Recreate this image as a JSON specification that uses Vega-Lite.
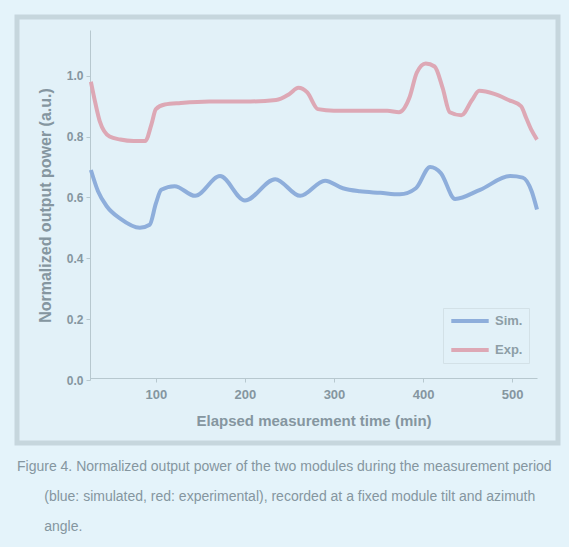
{
  "$schema": "https://vega.github.io/schema/vega-lite/v6.json",
  "width": 541,
  "height": 426,
  "autosize": {"type": "none"},
  "padding": {"left": 17, "top": 17, "right": 11, "bottom": 104},
  "background": "#e4f3fa",
  "title": {
    "text": [
      "Figure 4. Normalized output power of the two modules during the measurement period",
      "\u200b\u00a0\u00a0\u00a0\u00a0\u00a0\u00a0\u00a0(blue: simulated, red: experimental), recorded at a fixed module tilt and azimuth",
      "\u200b\u00a0\u00a0\u00a0\u00a0\u00a0\u00a0\u00a0angle."
    ],
    "orient": "bottom",
    "anchor": "start",
    "frame": "group",
    "offset": 17,
    "fontSize": 14,
    "fontWeight": "normal",
    "lineHeight": 30,
    "color": "#8596a0",
    "font": "Liberation Sans"
  },
  "data": {
    "values": [
      {"series": "Exp.", "t": 27, "v": 0.98},
      {"series": "Exp.", "t": 32, "v": 0.91},
      {"series": "Exp.", "t": 37, "v": 0.85},
      {"series": "Exp.", "t": 48, "v": 0.80},
      {"series": "Exp.", "t": 60, "v": 0.79},
      {"series": "Exp.", "t": 75, "v": 0.785},
      {"series": "Exp.", "t": 88, "v": 0.785},
      {"series": "Exp.", "t": 95, "v": 0.84},
      {"series": "Exp.", "t": 100, "v": 0.89},
      {"series": "Exp.", "t": 110, "v": 0.905},
      {"series": "Exp.", "t": 128, "v": 0.91},
      {"series": "Exp.", "t": 160, "v": 0.915},
      {"series": "Exp.", "t": 200, "v": 0.915},
      {"series": "Exp.", "t": 235, "v": 0.92},
      {"series": "Exp.", "t": 250, "v": 0.94},
      {"series": "Exp.", "t": 260, "v": 0.96},
      {"series": "Exp.", "t": 270, "v": 0.945},
      {"series": "Exp.", "t": 282, "v": 0.89},
      {"series": "Exp.", "t": 300, "v": 0.885},
      {"series": "Exp.", "t": 330, "v": 0.885},
      {"series": "Exp.", "t": 360, "v": 0.885},
      {"series": "Exp.", "t": 373, "v": 0.88},
      {"series": "Exp.", "t": 385, "v": 0.93},
      {"series": "Exp.", "t": 393, "v": 1.01},
      {"series": "Exp.", "t": 403, "v": 1.04},
      {"series": "Exp.", "t": 413, "v": 1.03},
      {"series": "Exp.", "t": 422, "v": 0.96},
      {"series": "Exp.", "t": 430, "v": 0.88},
      {"series": "Exp.", "t": 443, "v": 0.87},
      {"series": "Exp.", "t": 455, "v": 0.92},
      {"series": "Exp.", "t": 463, "v": 0.95},
      {"series": "Exp.", "t": 480, "v": 0.94},
      {"series": "Exp.", "t": 496, "v": 0.92},
      {"series": "Exp.", "t": 510, "v": 0.90},
      {"series": "Exp.", "t": 516, "v": 0.86},
      {"series": "Exp.", "t": 522, "v": 0.82},
      {"series": "Exp.", "t": 528, "v": 0.79},
      {"series": "Sim.", "t": 27, "v": 0.69},
      {"series": "Sim.", "t": 35, "v": 0.62},
      {"series": "Sim.", "t": 45, "v": 0.57},
      {"series": "Sim.", "t": 60, "v": 0.53},
      {"series": "Sim.", "t": 82, "v": 0.50},
      {"series": "Sim.", "t": 93, "v": 0.51},
      {"series": "Sim.", "t": 100, "v": 0.58},
      {"series": "Sim.", "t": 106, "v": 0.625},
      {"series": "Sim.", "t": 121, "v": 0.637},
      {"series": "Sim.", "t": 144, "v": 0.605},
      {"series": "Sim.", "t": 172, "v": 0.67},
      {"series": "Sim.", "t": 200, "v": 0.59},
      {"series": "Sim.", "t": 234, "v": 0.66},
      {"series": "Sim.", "t": 262, "v": 0.605},
      {"series": "Sim.", "t": 290, "v": 0.655},
      {"series": "Sim.", "t": 310, "v": 0.63},
      {"series": "Sim.", "t": 329, "v": 0.62},
      {"series": "Sim.", "t": 352, "v": 0.615},
      {"series": "Sim.", "t": 374, "v": 0.61},
      {"series": "Sim.", "t": 392, "v": 0.63},
      {"series": "Sim.", "t": 408, "v": 0.70},
      {"series": "Sim.", "t": 420, "v": 0.68},
      {"series": "Sim.", "t": 436, "v": 0.595},
      {"series": "Sim.", "t": 464, "v": 0.625},
      {"series": "Sim.", "t": 498, "v": 0.67},
      {"series": "Sim.", "t": 512, "v": 0.665},
      {"series": "Sim.", "t": 522, "v": 0.62},
      {"series": "Sim.", "t": 528, "v": 0.56}
    ]
  },
  "mark": {"type": "line", "strokeWidth": 4, "interpolate": "monotone"},
  "encoding": {
    "x": {
      "field": "t",
      "type": "quantitative",
      "scale": {"domain": [26, 528], "range": [73, 520], "nice": false, "zero": false},
      "axis": {
        "values": [100, 200, 300, 400, 500],
        "offset": -65,
        "grid": false,
        "title": "Elapsed measurement time (min)",
        "titlePadding": 12,
        "titleFontSize": 15,
        "labelFontSize": 13,
        "labelPadding": 6,
        "tickSize": 4
      }
    },
    "y": {
      "field": "v",
      "type": "quantitative",
      "scale": {"domain": [0, 1.15], "range": [363, 13], "nice": false, "zero": false},
      "axis": {
        "values": [0, 0.2, 0.4, 0.6, 0.8, 1.0],
        "format": ".1f",
        "offset": -73,
        "grid": false,
        "title": "Normalized output power (a.u.)",
        "titleFontSize": 16,
        "titlePadding": 13,
        "labelPadding": 3,
        "tickSize": 4
      }
    },
    "color": {
      "field": "series",
      "type": "nominal",
      "scale": {"domain": ["Sim.", "Exp."], "range": ["#8eaedb", "#dda8b5"]},
      "legend": {
        "orient": "none",
        "legendX": 426,
        "legendY": 291,
        "title": null,
        "symbolType": "stroke",
        "symbolSize": 1400,
        "symbolStrokeWidth": 4,
        "clipHeight": 14,
        "rowPadding": 15,
        "padding": 6,
        "strokeColor": "#d3e1e7",
        "labelFontSize": 13,
        "labelFontWeight": "bold",
        "labelColor": "#8d9ea6",
        "labelFont": "Liberation Sans"
      }
    }
  },
  "config": {
    "view": {"stroke": "#c6d6dd", "strokeWidth": 5, "fill": "#e2f1f8"},
    "axis": {
      "domainColor": "#b7c8cf",
      "tickColor": "#b7c8cf",
      "labelColor": "#8596a0",
      "titleColor": "#8596a0",
      "labelFont": "Liberation Sans",
      "titleFont": "Liberation Sans",
      "labelFontSize": 12,
      "labelFontWeight": "bold",
      "titleFontSize": 14,
      "titleFontWeight": "bold"
    }
  }
}
